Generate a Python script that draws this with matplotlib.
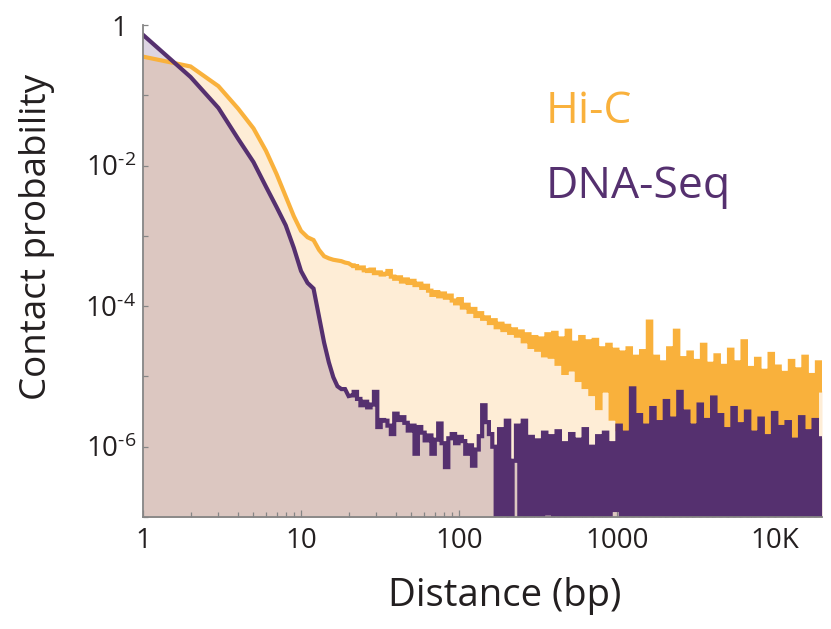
import numpy as np
import matplotlib
matplotlib.use("Agg")
import matplotlib.pyplot as plt
from matplotlib.ticker import FixedLocator, FixedFormatter, NullFormatter
import matplotlib.transforms as mtrans

# ---------------- data (log10 of contact probability) ----------------
head_dist = [1, 2, 3, 4, 5, 6, 7, 8, 9, 10, 11, 12, 13, 14, 15, 16, 17, 18, 19, 20]
hic_head_log = [-0.45, -0.59, -0.87, -1.19, -1.47, -1.79, -2.12, -2.44, -2.72, -2.93,
                -3.02, -3.06, -3.20, -3.29, -3.32, -3.34, -3.35, -3.36, -3.38, -3.39]
dna_head_log = [-0.14, -0.74, -1.18, -1.62, -1.95, -2.30, -2.59, -2.85, -3.17, -3.50,
                -3.67, -3.75, -4.15, -4.52, -4.80, -5.01, -5.14, -5.18, -5.18, -5.28]

# log-spaced distance bins for the long-range tail (bin centres)
tail_dist = np.geomspace(21, 19800, 140)

hic_tail_log = [
    -3.42, -3.43, -3.46, -3.45, -3.49, -3.50, -3.48, -3.53, -3.52, -3.55,
    -3.54, -3.50, -3.58, -3.61, -3.59, -3.65, -3.62, -3.67, -3.64, -3.70,
    -3.68, -3.74, -3.71, -3.78, -3.84, -3.80, -3.86, -3.82, -3.88, -3.85,
    -3.92, -3.96, -3.90, -4.02, -3.98, -4.08, -4.04, -4.14, -4.10, -4.18,
    -4.16, -4.24, -4.20, -4.30, -4.25, -4.34, -4.28, -4.38, -4.33, -4.42,
    -4.36, -4.50, -4.40, -4.58, -4.44, -4.62, -4.46, -4.70, -4.40, -4.72,
    -4.38, -4.82, -4.46, -4.95, -4.35, -4.90, -4.52, -5.05, -4.44, -5.15,
    -4.50, -5.25, -4.48, -5.45, -4.60, -5.20, -4.55, -5.60, -4.62, -5.75,
    -4.66, -6.00, -4.60, -6.10, -4.72, -5.95, -4.64, -6.20, -4.22, -6.10,
    -4.72, -5.95, -4.80, -6.20, -4.60, -6.05, -4.35, -6.20, -4.74, -6.10,
    -4.66, -6.15, -4.78, -6.30, -4.55, -6.05, -4.82, -6.25, -4.70, -6.20,
    -4.85, -6.10, -4.62, -6.35, -4.80, -6.20, -4.50, -6.30, -4.88, -6.15,
    -4.75, -6.35, -4.92, -6.20, -4.68, -6.40, -4.86, -6.25, -4.95, -6.30,
    -4.78, -6.35, -4.90, -6.25, -4.72, -6.40, -4.98, -6.30, -4.80, -5.20,
]
dna_tail_log = [
    -5.27, -5.22, -5.32, -5.41, -5.36, -5.44, -5.40, -5.22, -5.72, -5.62,
    -5.63, -5.70, -5.82, -5.53, -5.62, -5.58, -5.66, -5.77, -5.70, -6.10,
    -5.72, -5.80, -5.91, -5.84, -6.10, -5.90, -5.67, -5.95, -6.29, -5.88,
    -5.82, -5.95, -5.86, -5.92, -6.10, -5.98, -6.27, -6.04, -5.85, -5.41,
    -5.65, -5.82, -6.00, -7.60, -5.75, -7.60, -5.63, -7.60, -6.20, -5.70,
    -7.60, -5.63, -7.60, -5.86, -7.60, -5.91, -7.60, -5.80, -6.95, -5.85,
    -7.60, -5.78, -7.60, -5.95, -7.60, -5.82, -7.00, -5.90, -7.60, -5.75,
    -7.60, -6.00, -7.60, -5.85, -7.60, -5.80, -7.60, -5.95, -6.90, -5.70,
    -7.60, -5.80, -7.60, -5.17, -7.60, -5.55, -7.60, -5.70, -7.60, -5.45,
    -7.60, -5.65, -7.60, -5.35, -7.60, -5.60, -7.60, -5.22, -7.60, -5.50,
    -7.60, -5.70, -7.60, -5.40, -7.60, -5.62, -7.60, -5.30, -7.60, -5.55,
    -7.60, -5.75, -7.60, -5.45, -7.60, -5.68, -7.60, -5.50, -7.60, -5.80,
    -7.60, -5.60, -7.60, -5.85, -7.60, -5.52, -7.60, -5.72, -7.60, -5.65,
    -7.60, -5.90, -7.60, -5.58, -7.60, -5.78, -7.60, -5.62, -7.60, -5.88,
]

xtick_vals = [1, 10, 100, 1000, 10000]
xtick_text = ["1", "10", "100", "1000", "10K"]
ytick_exps = [0, -1, -2, -3, -4, -5, -6, -7]
ytick_text = ["1", "", r"$\mathregular{10^{\text{-}2}}$", "", r"$\mathregular{10^{\text{-}4}}$", "",
              r"$\mathregular{10^{\text{-}6}}$", ""]

series_names = ["Hi-C", "DNA-Seq"]

# ---------------- style ----------------
ORANGE = "#F9B13C"
ORANGE_FILL = "#FEEDD6"
PURPLE = "#55306F"
TEXT = "#231F20"
AXIS = "#858585"

plt.rcParams["font.family"] = ["Open Sans", "DejaVu Sans"]
plt.rcParams["mathtext.fontset"] = "custom"
plt.rcParams["mathtext.rm"] = "Open Sans"
plt.rcParams["mathtext.it"] = "Open Sans:italic"
plt.rcParams["mathtext.bf"] = "Open Sans:bold"

fig = plt.figure(figsize=(8.31, 6.29), dpi=100)
W, H = 831, 629
ax = fig.add_axes([143 / W, (H - 517) / H, (822 - 143) / W, (517 - 25) / H])
ax.set_xscale("log")
ax.set_yscale("log")


def curve(head_log, tail_log):
    """Linear segments for the per-bp head, histogram steps for the binned tail."""
    c = np.asarray(tail_dist)
    edges = np.sqrt(c[:-1] * c[1:])
    left = np.concatenate([[c[0]], edges])
    right = np.concatenate([edges, [c[-1]]])
    xs = np.column_stack([left, right]).ravel()
    ys = np.repeat(np.asarray(tail_log), 2)
    x = np.concatenate([np.asarray(head_dist, float), xs])
    y = 10.0 ** np.concatenate([np.asarray(head_log), ys])
    return x, y


hx, hy = curve(hic_head_log, hic_tail_log)
dx, dy = curve(dna_head_log, dna_tail_log)
base = 1e-9

ax.fill_between(hx, hy, base, color=ORANGE_FILL, lw=0, zorder=1)
ax.fill_between(dx, dy, base, color=PURPLE, alpha=0.2, lw=0, zorder=1.1)

lw = 3.0
ax.plot(hx, hy, color=ORANGE, lw=lw, zorder=2, solid_joinstyle="miter")
ax.plot(dx, dy, color=PURPLE, lw=lw, zorder=2.1, solid_joinstyle="miter")

ax.set_xlim(1, 19800)
ax.set_ylim(1e-7, 1)

for s in ["top", "right"]:
    ax.spines[s].set_visible(False)
for s in ["left", "bottom"]:
    ax.spines[s].set_color(AXIS)
    ax.spines[s].set_linewidth(1.3)

ax.xaxis.set_major_locator(FixedLocator(xtick_vals))
ax.xaxis.set_major_formatter(FixedFormatter(xtick_text))
minor_x = [m * 10 ** e for e in range(0, 5) for m in range(2, 10) if m * 10 ** e < 19800]
ax.xaxis.set_minor_locator(FixedLocator(minor_x))
ax.xaxis.set_minor_formatter(NullFormatter())

ax.yaxis.set_major_locator(FixedLocator([10.0 ** e for e in ytick_exps]))
ax.yaxis.set_major_formatter(FixedFormatter(ytick_text))
ax.yaxis.set_minor_locator(FixedLocator([]))

ax.tick_params(axis="x", which="major", direction="in", length=5, width=0.9,
               color=AXIS, labelsize=20, labelcolor=TEXT, pad=7)
ax.tick_params(axis="x", which="minor", direction="in", length=3.3, width=0.9, color=AXIS)
ax.tick_params(axis="y", which="major", direction="in", length=3.8, width=0.9,
               color=AXIS, labelsize=20, labelcolor=TEXT, pad=5)

# shift the "1" label a little left (as in the reference)
fig.canvas.draw()
for t in ax.yaxis.get_major_ticks():
    if t.label1.get_text() == "1":
        t.label1.set_transform(t.label1.get_transform() +
                               mtrans.ScaledTranslation(-9 / 100, 0, fig.dpi_scale_trans))

fig.text(37 / W, 1 - 237 / H, "Contact probability", rotation=90, ha="center", va="center",
         fontsize=26.5, color=TEXT)
fig.text(505 / W, 1 - 596 / H, "Distance (bp)", ha="center", va="center",
         fontsize=27.5, color=TEXT)

fig.text(546 / W, 1 - 123 / H, series_names[0], ha="left", va="baseline",
         fontsize=32, color=ORANGE)
fig.text(546 / W, 1 - 198 / H, series_names[1], ha="left", va="baseline",
         fontsize=32, color=PURPLE)

fig.savefig("out.png", dpi=100)
